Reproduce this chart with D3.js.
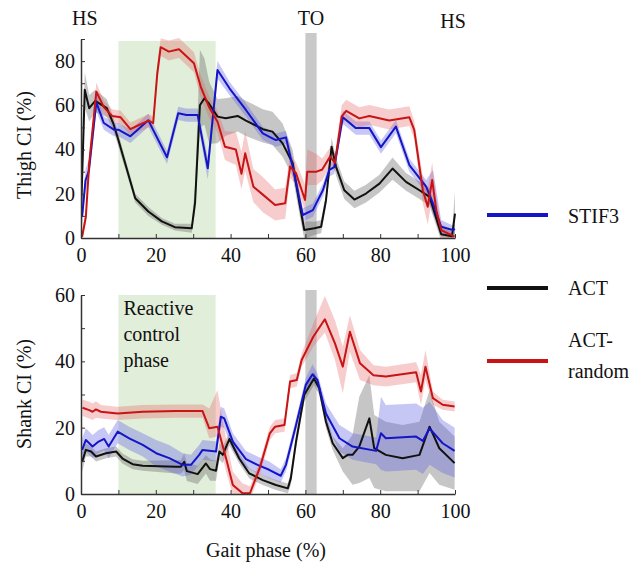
<!DOCTYPE html>
<html>
<head>
<meta charset="utf-8">
<script src="https://cdn.jsdelivr.net/npm/d3@7"></script>
<style>
  html, body { margin: 0; padding: 0; background: #fff; }
  svg text { font-family: "Liberation Serif", "Times New Roman", serif !important; }
</style>
</head>
<body>
<svg id="chart" width="634" height="564"></svg>
<script>
// ---- data: rows are [gait phase %, mean CI %, lower spread, upper spread] ----
const thighSTIF3 = [
  [0.3,9.6,4,4],[1.2,26,5,5],[2.1,30.4,5,5],[4.1,61.3,4,4],[6.1,52,3,3],[8.8,49,3,3],
  [10,49,3,3],[13.2,46,3,3],[18,53.2,3,3],[23,36.5,3,3],[26,56.4,3,3],[28.2,55.6,3,3],
  [31.2,55.6,3,3],[33.9,31.5,5,5],[36.5,76,4,4],[39.7,67.7,3,3],[44.1,57.9,3,3],
  [48.6,47.3,3,3],[52.1,44.3,3,3],[54.8,45.5,3,3],[56.6,32.2,4,4],[59.3,10.4,3,3],
  [62,12.6,3,3],[64.7,21.7,3,3],[66.4,30.8,3,3],[67.7,32,3,3],[70,54.6,3,3],
  [73.5,49.7,3,3],[77.1,49.7,3,3],[80.2,41.1,3,3],[84.2,50.4,3,3],[87.8,33,3,3],
  [92.3,23.2,3,3],[94.1,15.7,5,15],[96.3,5.1,3,3],[99.4,3.6,2,2],[100,4,2,2]
];
const thighACT = [
  [0,10,5,5],[1,67,8,8],[2.2,58.7,6,6],[3.8,62,5,5],[6.9,58.7,4,4],[8.6,52,3,3],
  [10,44.3,3,3],[11.8,33.8,2.5,2.5],[14.5,18,2,2],[18,12,2,2],[21.6,7.5,1.5,1.5],
  [25.1,4.9,1.5,1.5],[29.6,4.4,2,2],[30.5,16,4,8],[31.8,60,10,25],[33,63.2,12,18],
  [34.3,60.6,18,10],[36.5,54.9,12,8],[38.7,54.2,8,9],[41.9,55.2,7,9],[44.1,53.1,7,9],
  [48.6,49.2,6,9],[51.2,48.1,6,9],[53.9,42.8,6,9],[56.6,33.8,6,6],[58.4,15.7,5,5],
  [59.7,3.6,4,4],[62.4,4.4,3,3],[64.2,5.1,3,3],[65.5,17,3,3],[67,41.3,4,4],
  [68.2,32.2,4,4],[70.4,21.6,4,4],[73.1,17.4,4,4],[76.2,20.1,4,4],[79.8,24.6,4,4],
  [83.3,31.4,5,5],[86.9,25.4,4,4],[90.5,21.6,4,4],[93.2,18.6,4,4],[96.3,1.7,3,3],
  [99.2,0.8,2,2],[100,11,10,10]
];
const thighACTrandom = [
  [0.3,0.5,1,2],[1.3,9.6,3,3],[2.2,33.8,4,4],[4.1,66.2,4,4],[6.1,59.2,3,3],[8.3,55.2,3,3],
  [10.6,54.6,3,3],[13.2,49.2,3,3],[15.5,51.1,3,3],[18.1,53.1,3,3],[19.3,52,3,3],
  [20.4,74.5,4,4],[21.3,86.3,4,4],[23.5,84.3,4,5],[26.2,85.4,4,5],[30.2,79,4,5],
  [32,68.5,5,5],[34.3,59,5,5],[36.5,52.6,5,5],[38.5,41.3,6,7],[41.4,40,7,8],
  [42.9,29,7,10],[43.9,38.3,8,10],[46.1,23.2,7,8],[48.7,19.5,8,8],[51.9,14.9,7,7],
  [54.6,15.7,7,7],[55.9,32.3,5,5],[57.5,29.3,5,5],[59.9,17.2,5,7],[60.5,30,6,10],
  [63,30,6,8],[64.5,31,5,5],[66.6,36.8,4,4],[67.9,34,4,4],[69.7,55,4,5],
  [70.9,57.5,4,5],[74.4,54.1,4,5],[77.1,55.2,4,5],[82.4,53.1,4,5],[87.8,54.6,4,5],
  [89.1,48.9,4,4],[91.4,21.6,6,6],[92.7,14.1,8,8],[93.9,26.2,8,8],[95,12.6,6,6],
  [96.3,3.6,3,3],[99.9,0.6,1,1]
];
const shankSTIF3 = [
  [0.3,13.3,3.5,3.5],[1.3,16.3,3.5,3.5],[3.1,14.3,3.5,3.5],[4.7,15.8,3.5,3.5],
  [6.2,16.6,3.5,3.5],[7.4,14.3,3.5,3.5],[9.8,18.8,3.5,3.5],[12.9,16.8,3.5,3.5],
  [16.5,14.8,3.5,3.5],[20.1,12.3,4,4],[23.6,10.8,4,4],[27.2,8.8,3.5,3.5],[29.4,8.8,3,3],
  [31.6,11.8,3,3],[32.5,13.3,3,3],[36.1,12.8,3,3],[37.4,23.3,3,3],[38.3,22.8,3,3],
  [40.6,15.8,2.5,2.5],[44.1,10.5,2.5,2.5],[47.2,8.8,2.5,2.5],[50.3,7.3,2.5,2.5],
  [53.4,5.5,2,2],[54.8,8.8,2,2],[57.5,20.8,2,2],[60.1,32.9,2,2],[61.9,36.1,2,3],
  [63.2,34.4,2,2],[65.5,24.3,3,3],[69.1,16.8,4,4],[72.6,14.3,4,4],[78.9,13,4,4],
  [80.2,18.3,11,11],[81.5,16.8,10,10],[89.6,17.3,10,10],[91.4,16,10,10],
  [93.2,19.8,11,8],[96.7,15.3,9,7],[99.9,13,8,7]
];
const shankACT = [
  [0.3,9.7,3,3],[1.3,13.3,2,2],[2.7,12.8,1.5,1.5],[4,11.3,1.5,1.5],[6.7,12.3,1.5,1.5],
  [9.4,12.8,1.5,1.5],[11.1,10.7,1.5,1.5],[13.8,9,1.5,1.5],[16.5,8.5,1.5,1.5],
  [25.4,8.2,2,2],[26.7,8.2,2,2],[27.6,9.7,2.5,2.5],[28.3,6.9,3,2.5],[31.2,6,3,2.5],
  [33.4,9.2,3,2.5],[34.5,7.5,3.5,3],[36.1,7,3,3],[37,12.8,2.5,2.5],[37.9,11.8,2.5,2.5],
  [39.7,16.6,2,2],[42.3,10.7,1.5,1.5],[45,6.2,1.5,1.5],[48.6,4.2,1.5,1.5],
  [52.1,2.7,1.5,1.5],[55.3,1.7,1.5,1.5],[56.1,4.7,2,2],[57.5,15.8,2,2],[59.7,29.9,2,2],
  [62.3,34.8,2,2],[63.7,31.9,2,2],[65.5,21.8,2,2],[67.3,15.3,2,2],[70,10.8,4,3],
  [71.3,11.8,7,4],[72.6,11.8,9,6],[74.4,14.3,11,15],[77.1,22.8,18,13],[78.4,13.8,12,10],
  [81.5,11.8,11,10],[86,10.8,10,10],[90.5,11.8,11,10],[93.2,20.3,14,11],
  [95.8,13.8,11,8],[99.9,9.3,8,8]
];
const shankACTrandom = [
  [0.4,26,2.5,2.5],[2.2,25.3,2.5,2.5],[3.1,24.8,2.5,2.5],[4,25.5,2.5,2.5],[5.3,24.8,2,2],
  [9.8,24.3,2,2],[16.5,24.8,2,2],[25.4,25,2,2],[32.5,25,2,2],[34.3,19.8,3,6],
  [36.5,20.3,3,11],[38.8,10.7,4,6],[40.6,2.7,3,4],[43.2,0.2,3,3],[45.2,0.3,2,2],
  [47.9,8.2,2,2],[50.5,18.3,2,2],[51.9,20.3,2,2],[54.4,20.8,2,2],[55.9,33.9,2,2],
  [57.7,34.4,2,2],[59,40.4,2,2],[62.1,47.4,3,4],[65.2,52.7,4,7],[67.9,45.4,5,7],
  [70,38.4,8,6],[71.9,48.9,6,5],[74.6,39.4,5,4],[78.2,35.8,3,3],[81.5,35.4,3,3],
  [89.6,36.7,3,3],[90.9,30.9,4,5],[92.1,38.4,4,5],[94.1,28.9,2,2],[96.7,26.9,1.5,1.5],
  [99.9,26.4,1.5,1.5]
];
const seriesNames = ["STIF3", "ACT", "ACT-random"];
const reactivePhase = [10, 36];   // % gait phase
const toeOffBand = [60, 63];      // % gait phase
const xTicks = [0, 10, 20, 30, 40, 50, 60, 70, 80, 90, 100];
const thighTicks = [0, 10, 20, 30, 40, 50, 60, 70, 80, 90];
const shankTicks = [0, 10, 20, 30, 40, 50, 60];
const eventLabels = [["HS", 1], ["TO", 61.5], ["HS", 99.5]];

// ---- drawing ----
const svg = d3.select("#chart");
const FONT = 20;
const SERIF = "'Liberation Serif', 'Times New Roman', serif";
const colors = { "STIF3": "#1515c8", "ACT": "#111111", "ACT-random": "#c81414" };
const bandColors = { "STIF3": "rgba(95,95,225,0.35)", "ACT": "rgba(105,105,105,0.38)", "ACT-random": "rgba(228,95,95,0.32)" };

const x = d3.scaleLinear().domain([0, 100]).range([81, 455]);

function txt(sel) {
  return sel.attr("font-size", FONT).attr("fill", "#111").style("font-family", SERIF);
}

function panel(id, yDomain, yRange, ticks, data, yLabel, yLabelCenter, greenTop, barTop) {
  const y = d3.scaleLinear().domain(yDomain).range(yRange);
  const g = svg.append("g");
  const clipId = "clip-" + id;
  svg.append("clipPath").attr("id", clipId).append("rect")
    .attr("x", x(0)).attr("y", yRange[1] - 10).attr("width", x(100) - x(0) + 3)
    .attr("height", yRange[0] - yRange[1] + 10);

  g.append("rect").attr("x", x(reactivePhase[0])).attr("width", x(reactivePhase[1]) - x(reactivePhase[0]))
    .attr("y", greenTop).attr("height", yRange[0] - greenTop).attr("fill", "#e1eed9");
  g.append("rect").attr("x", x(toeOffBand[0])).attr("width", x(toeOffBand[1]) - x(toeOffBand[0]))
    .attr("y", barTop).attr("height", yRange[0] - barTop).attr("fill", "#c9c9c9");

  const area = d3.area().x(d => x(d[0])).y0(d => y(d[1] - d[2])).y1(d => y(d[1] + d[3]));
  const line = d3.line().x(d => x(d[0])).y(d => y(d[1]));
  const order = ["ACT", "STIF3", "ACT-random"];
  const plot = g.append("g").attr("clip-path", `url(#${clipId})`);
  order.forEach(n => {
    plot.append("path").attr("d", area(data[n])).attr("fill", bandColors[n]);
  });
  order.forEach(n => {
    plot.append("path").attr("d", line(data[n])).attr("fill", "none")
      .attr("stroke", colors[n]).attr("stroke-width", 2).attr("stroke-linejoin", "round");
  });

  const yAxis = d3.axisLeft(y).tickValues(ticks).tickSize(-4).tickSizeOuter(0).tickPadding(6)
    .tickFormat(d => d % 20 === 0 ? d : "");
  const ya = g.append("g").attr("transform", `translate(${x(0)},0)`).call(yAxis);
  const xAxis = d3.axisBottom(x).tickValues(xTicks).tickSize(-4).tickSizeOuter(0).tickPadding(10)
    .tickFormat(d => d % 20 === 0 ? d : "");
  const xa = g.append("g").attr("transform", `translate(0,${yRange[0]})`).call(xAxis);
  [ya, xa].forEach(a => {
    a.attr("font-family", null).attr("font-size", null);
    a.selectAll("path").attr("stroke", "#333").attr("stroke-width", 1.5);
    a.selectAll("line").attr("stroke", "#333").attr("stroke-width", 1);
    txt(a.selectAll("text"));
  });

  txt(svg.append("text").attr("transform", `translate(31,${yLabelCenter}) rotate(-90)`)
    .attr("text-anchor", "middle")).text(yLabel);
  return y;
}

panel("thigh", [0, 90], [238, 39], thighTicks,
  { "STIF3": thighSTIF3, "ACT": thighACT, "ACT-random": thighACTrandom },
  "Thigh CI (%)", 145, 41, 33);
panel("shank", [0, 60], [494, 295], shankTicks,
  { "STIF3": shankSTIF3, "ACT": shankACT, "ACT-random": shankACTrandom },
  "Shank CI (%)", 394, 295, 290);

// event labels
eventLabels.forEach(([t, p], i) => {
  txt(svg.append("text").attr("x", x(p)).attr("y", i === 2 ? 28 : 25).attr("text-anchor", "middle")).text(t);
});

// reactive control phase label
["Reactive", "control", "phase"].forEach((t, i) => {
  txt(svg.append("text").attr("x", x(reactivePhase[0]) + 5).attr("y", 315 + i * 26)).text(t);
});

// x label
txt(svg.append("text").attr("x", 266).attr("y", 557).attr("text-anchor", "middle")).text("Gait phase (%)");

// legend
const legendY = [215, 288, 361];
const legendText = [[["STIF3", 223]], [["ACT", 295]], [["ACT-", 347], ["random", 378]]];
seriesNames.forEach((n, i) => {
  svg.append("line").attr("x1", 487).attr("x2", 548).attr("y1", legendY[i]).attr("y2", legendY[i])
    .attr("stroke", colors[n]).attr("stroke-width", 4);
  legendText[i].forEach(([t, yy]) => {
    txt(svg.append("text").attr("x", 568).attr("y", yy)).text(t);
  });
});
</script>
</body>
</html>
